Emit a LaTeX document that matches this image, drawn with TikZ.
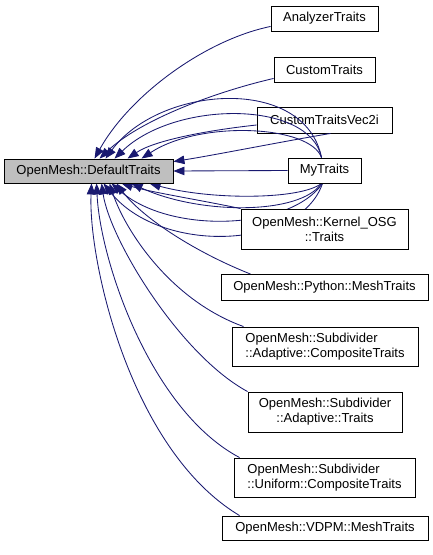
\documentclass[tikz,border=0pt]{standalone}
\usepackage{fontspec}
\setmainfont{Liberation Sans}
\usetikzlibrary{arrows.meta,calc}
\definecolor{edgecol}{HTML}{191970}
\begin{document}
\begin{tikzpicture}[x=1pt,y=-1pt,
  box/.style={draw=black,line width=0.9pt,inner sep=0pt,fill=white,
    font=\fontsize{13}{15}\selectfont},
  lbox/.style={box,align=left},
  cbox/.style={box,align=center},
  edge/.style={draw=edgecol,line width=0.85pt,-{Triangle[length=11pt,width=8.5pt]}}]
\useasboundingbox (0,0) rectangle (433,555);
% nodes (coordinates only, drawn later)
\path
  node[box,minimum width=169pt,minimum height=24pt,fill=gray!50] (DT) at (88.5,171) {OpenMesh::DefaultTraits}
  node[box,minimum width=107pt,minimum height=25pt] (AN) at (324.5,18.5) {AnalyzerTraits}
  node[box,minimum width=101pt,minimum height=25pt] (CU) at (324.5,69.5) {CustomTraits}
  node[box,minimum width=135pt,minimum height=26pt,fill=none] (V2) at (324.5,120) {CustomTraitsVec2i}
  node[box,minimum width=73pt,minimum height=25pt] (MY) at (324.5,170.5) {MyTraits}
  node[cbox,minimum width=167pt,minimum height=40pt] (KO) at (324.5,229) {OpenMesh::Kernel\_OSG\\::Traits}
  node[box,minimum width=207pt,minimum height=26pt] (PY) at (324.5,287.5) {OpenMesh::Python::MeshTraits}
  node[lbox,minimum width=186pt,minimum height=39pt] (AC) at (325,346.5) {OpenMesh::Subdivider\\::Adaptive::CompositeTraits}
  node[cbox,minimum width=154pt,minimum height=40pt] (AT) at (325,412) {OpenMesh::Subdivider\\::Adaptive::Traits}
  node[lbox,minimum width=181pt,minimum height=39pt] (UC) at (324.5,477.5) {OpenMesh::Subdivider\\::Uniform::CompositeTraits}
  node[box,minimum width=206pt,minimum height=24pt] (VD) at (325,528) {OpenMesh::VDPM::MeshTraits};
% edges
\draw[edge] ($(AN.south west)+(0,-5)$) .. controls (205,40) and (130,95) .. ($(DT.north west)+(91,0)$);
\draw[edge] ($(CU.south west)+(0,-4)$) .. controls (215,92) and (140,120) .. ($(DT.north west)+(96,0)$);
\draw[edge] ($(MY.north)+(-3,0)$) .. controls (305,75) and (160,85) .. ($(DT.north west)+(102,0)$);
\draw[edge] ($(MY.north)+(-3,0)$) .. controls (310,100) and (175,100) .. ($(DT.north west)+(111,0)$);
\draw[edge] ($(V2.west)+(0,5)$) .. controls (210,130) and (155,140) .. ($(DT.north west)+(124,0)$);
\draw[edge] ($(MY.north)+(-3,0)$) .. controls (310,125) and (200,120) .. ($(DT.north west)+(138,0)$);
\draw[edge] ($(V2.south)+(6,0)$) .. controls (280,142) and (215,155) .. ($(DT.north east)+(0,3)$);
\draw[edge] (MY.west) -- (DT.east);
\draw[edge] ($(MY.south)+(-3,0)$) .. controls (300,200) and (210,200) .. ($(DT.south west)+(146,0)$);
\draw[edge] ($(MY.south)+(-3,0)$) .. controls (300,215) and (200,215) .. ($(DT.south west)+(128,0)$);
\draw[edge] ($(MY.south)+(-2,0)$) .. controls (290,230) and (170,235) .. ($(DT.south west)+(108,0)$);
\draw[edge] ($(MY.south)+(-2,0)$) .. controls (300,250) and (160,255) .. ($(DT.south west)+(100,0)$);
\draw[edge] (KO.north west) .. controls (200,200) and (150,192) .. ($(DT.south west)+(118,0)$);
\draw[edge] ($(PY.north west)+(30,0)$) .. controls (190,250) and (140,215) .. ($(DT.south west)+(113,0)$);
\draw[edge] ($(AC.north west)+(12,0)$) .. controls (170,300) and (125,230) .. ($(DT.south west)+(106,0)$);
\draw[edge] (AT.north west) .. controls (180,355) and (110,240) .. ($(DT.south west)+(98,0)$);
\draw[edge] ($(UC.north west)+(6,0)$) .. controls (150,410) and (100,260) .. ($(DT.south west)+(93,0)$);
\draw[edge] ($(VD.north west)+(18,0)$) .. controls (130,450) and (88,260) .. ($(DT.south west)+(88,0)$);
% redraw nodes on top
\node[box,minimum width=169pt,minimum height=24pt,fill=gray!50] at (DT) {OpenMesh::DefaultTraits};
\node[box,minimum width=107pt,minimum height=25pt] at (AN) {AnalyzerTraits};
\node[box,minimum width=101pt,minimum height=25pt] at (CU) {CustomTraits};
\node[box,minimum width=73pt,minimum height=25pt] at (MY) {MyTraits};
\node[cbox,minimum width=167pt,minimum height=40pt] at (KO) {OpenMesh::Kernel\_OSG\\::Traits};
\node[box,minimum width=207pt,minimum height=26pt] at (PY) {OpenMesh::Python::MeshTraits};
\node[lbox,minimum width=186pt,minimum height=39pt] at (AC) {OpenMesh::Subdivider\\::Adaptive::CompositeTraits};
\node[cbox,minimum width=154pt,minimum height=40pt] at (AT) {OpenMesh::Subdivider\\::Adaptive::Traits};
\node[lbox,minimum width=181pt,minimum height=39pt] at (UC) {OpenMesh::Subdivider\\::Uniform::CompositeTraits};
\node[box,minimum width=206pt,minimum height=24pt] at (VD) {OpenMesh::VDPM::MeshTraits};
\end{tikzpicture}
\end{document}
